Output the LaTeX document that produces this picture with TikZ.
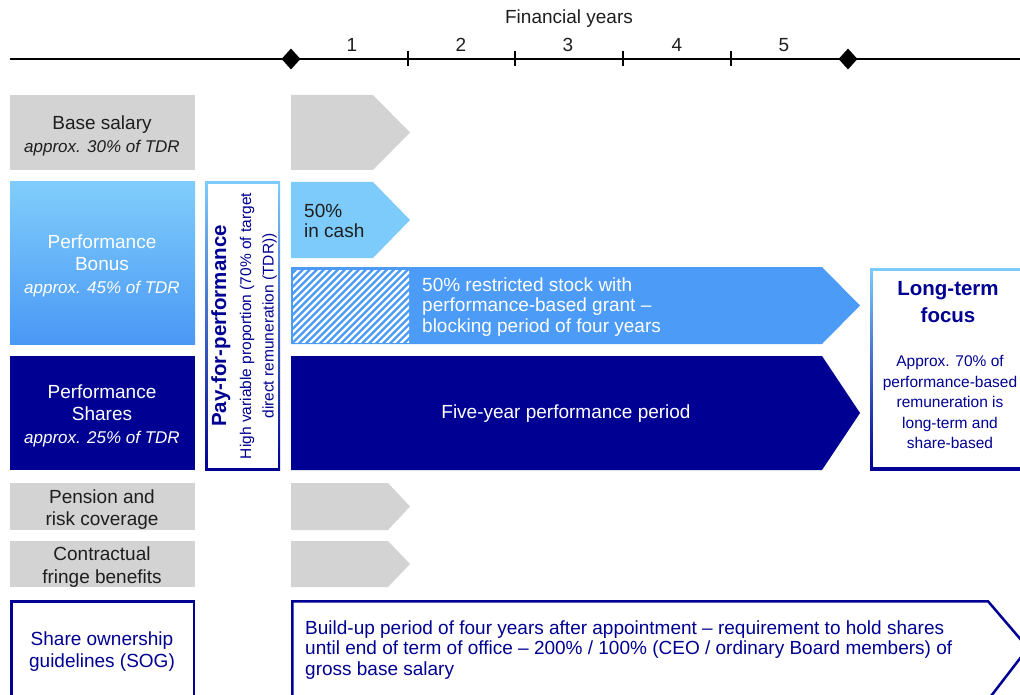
\documentclass[tikz,border=0pt]{standalone}
\usepackage{fontspec}
\setmainfont{Liberation Sans}
\usetikzlibrary{shapes.geometric}
\definecolor{grayb}{HTML}{D3D3D3}
\definecolor{lblue}{HTML}{7DCBFB}
\definecolor{mblue}{HTML}{4C9BF6}
\definecolor{dblue}{HTML}{000092}
\definecolor{bonustop}{HTML}{80CDFB}
\definecolor{bonusbot}{HTML}{4A98F5}
\definecolor{txtg}{HTML}{1E1E1E}
\begin{document}
\begin{tikzpicture}[x=1pt,y=-1pt,
  main/.style={font=\fontsize{19}{22.5}\selectfont, inner sep=0pt, align=center},
  tight/.style={font=\fontsize{19}{20.7}\selectfont, inner sep=0pt, align=left, anchor=west},
  small/.style={font=\fontsize{15.5}{20.5}\selectfont, inner sep=0pt, align=center},
  mark diamond/.style={diamond, fill=black, minimum width=19, minimum height=21, inner sep=0pt},
  tickline/.style={line width=1.1pt},
  sogline/.style={draw=dblue, line width=2.5pt, fill=white}
]
\useasboundingbox (0,0) rectangle (1020,695);
\clip (0,0) rectangle (1020,695);

% ---------- axis ----------
\coordinate (axL) at (10,59);
\coordinate (axR) at (1022,59);
\draw[line width=2pt] (axL) -- (axR);
\foreach \x in {408,515,623,731} \draw[tickline] (\x,51) -- (\x,66);
\node[mark diamond] (d1) at (291,59) {};
\node[mark diamond] (d2) at (848,59) {};
\node[main, text=txtg] (fy) at (569,19) {Financial years};
\node[main, text=txtg] (y1) at (352,45) {1};
\node[main, text=txtg] (y2) at (461,45) {2};
\node[main, text=txtg] (y3) at (568,45) {3};
\node[main, text=txtg] (y4) at (677,45) {4};
\node[main, text=txtg] (y5) at (784,45) {5};

% ---------- left column ----------
\fill[grayb] (10,95) rectangle (195,170);
\node[main, text=txtg] (base) at (102,136) {Base salary\\{\fontsize{17}{22}\selectfont\itshape approx. 30\% of TDR}};

\shade[top color=bonustop, bottom color=bonusbot] (10,182) rectangle (195,344);
\node[main, text=white] (bonus) at (102,265.5) {Performance\\Bonus\\{\fontsize{17}{22}\selectfont\itshape approx. 45\% of TDR}};

\fill[dblue] (10,356) rectangle (195,470);
\node[main, text=white] (shares) at (102,415.5) {Performance\\Shares\\{\fontsize{17}{22}\selectfont\itshape approx. 25\% of TDR}};

\fill[grayb] (10,483) rectangle (195,530);
\node[main, text=txtg] (pension) at (102,509.5) {Pension and\\risk coverage};

\fill[grayb] (10,541) rectangle (195,587);
\node[main, text=txtg] (fringe) at (102,567) {Contractual\\fringe benefits};

\path[sogline] (11.25,601.25) rectangle (193.75,710);
\node[main, text=dblue] (sog) at (102,651.5) {Share ownership\\guidelines (SOG)};

% ---------- pay-for-performance box ----------
\shade[top color=lblue, bottom color=dblue] (205,182) rectangle (280,470);
\fill[white] (207.5,184.5) rectangle (277.5,467.5);
\node[rotate=90, anchor=base, inner sep=0pt, text=dblue, font=\fontsize{20.5}{24}\selectfont\bfseries] (pfp) at (226,326) {Pay-for-performance};
\node[rotate=90, anchor=base, inner sep=0pt, text=dblue, font=\fontsize{15.5}{20}\selectfont] (hv1) at (251,326) {High variable proportion (70\% of target};
\node[rotate=90, anchor=base, inner sep=0pt, text=dblue, font=\fontsize{15.5}{20}\selectfont] (hv2) at (273.5,326) {direct remuneration (TDR))};

% ---------- timeline arrows ----------
\fill[grayb] (291,95) -- (373,95) -- (410,132.5) -- (373,170) -- (291,170) -- cycle;

\fill[lblue] (291,182) -- (373,182) -- (410,220) -- (373,258) -- (291,258) -- cycle;
\node[tight, text=txtg, font=\fontsize{19}{20.5}\selectfont] (cash) at (304,221) {50\%\\in cash};

\fill[mblue] (291,267) -- (822,267) -- (860,305.5) -- (822,344) -- (291,344) -- cycle;
\begin{scope}
  \clip (293,270) rectangle (409,342);
  \foreach \i in {0,...,31} \draw[white, line width=2.4pt] (205+\i*7,350) -- (295+\i*7,260);
\end{scope}
\node[tight, text=white] (stock) at (422,307) {50\% restricted stock with\\performance-based grant --\\blocking period of four years};

\fill[dblue] (291,356) -- (822,356) -- (860,413) -- (822,470) -- (291,470) -- cycle;
\node[main, text=white] (five) at (566,414) {Five-year performance period};

\fill[grayb] (291,483) -- (388,483) -- (410,506.5) -- (388,530) -- (291,530) -- cycle;
\fill[grayb] (291,541) -- (388,541) -- (410,564) -- (388,587) -- (291,587) -- cycle;

\path[sogline] (292.25,601.25) -- (988,601.25) -- (1028,648) -- (988,700) -- (292.25,700) -- cycle;
\node[tight, text=dblue] (build) at (305,650) {Build-up period of four years after appointment -- requirement to hold shares\\until end of term of office -- 200\% / 100\% (CEO / ordinary Board members) of\\gross base salary};

% ---------- long-term focus ----------
\shade[top color=lblue, bottom color=dblue] (870,268) rectangle (1032,470);
\fill[white] (873,271) rectangle (1029,467);
\node[inner sep=0pt, align=center, text=dblue, font=\fontsize{20.5}{27}\selectfont\bfseries] (ltf) at (948,302) {Long-term\\focus};
\node[small, text=dblue] (ltxt) at (950,402) {Approx. 70\% of\\performance-based\\remuneration is\\long-term and\\share-based};
\end{tikzpicture}
\end{document}
